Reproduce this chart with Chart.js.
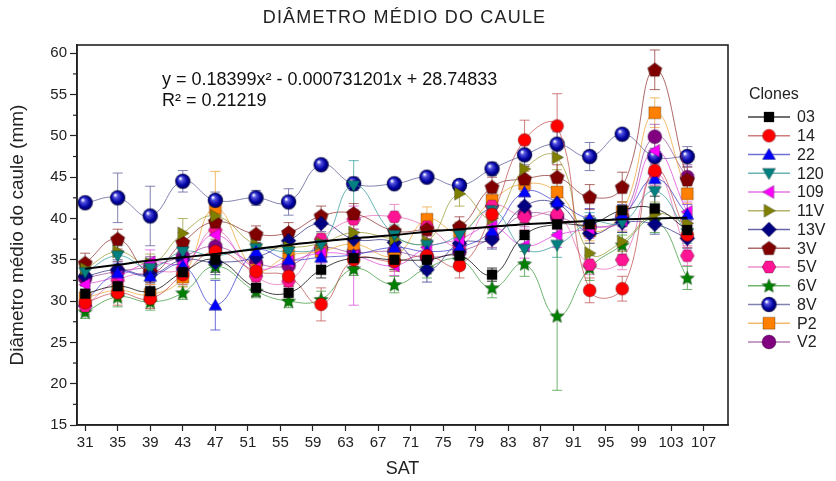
<!DOCTYPE html>
<html><head><meta charset="utf-8">
<script src="https://cdn.jsdelivr.net/npm/chart.js@4/dist/chart.umd.min.js"></script>
<style>html,body{margin:0;padding:0;background:#fff;}#wrap{width:836px;height:481px;position:relative;}</style>
</head><body><div id="wrap"><canvas id="c" width="836" height="481"></canvas></div>
<script>
// ---- data ----
const sat = [31,35,39,43,47,52,56,60,64,69,73,77,81,85,89,93,97,101,105];
const xTickValues = [31,35,39,43,47,51,55,59,63,67,71,75,79,83,87,91,95,99,103,107];
const yTickValues = [15,20,25,30,35,40,45,50,55,60];
const yMinorValues = [17.5,22.5,27.5,32.5,37.5,42.5,47.5,52.5,57.5];
const clones = ['03','14','22','120','109','11V','13V','3V','5V','6V','8V','P2','V2'];

const v03  = [30.9,31.8,31.2,33.5,35.0,31.6,31.0,33.8,35.2,35.0,35.0,35.5,33.2,38.0,39.3,39.3,41.0,41.2,38.6];
const v14  = [29.8,31.0,30.3,33.2,36.0,33.6,33.0,29.6,35.0,34.8,35.5,34.3,40.5,49.5,51.2,31.3,31.5,45.8,38.0];
const v22  = [30.0,33.4,33.0,34.3,29.5,36.0,35.0,35.3,35.6,36.5,36.0,36.5,38.5,43.2,42.0,40.0,40.5,44.8,40.5];
const v120 = [33.5,35.5,34.0,36.0,35.5,36.4,36.0,36.8,44.0,38.0,36.8,38.0,41.0,36.3,36.8,39.5,39.5,43.3,38.2];
const v109 = [32.0,33.0,34.7,34.6,38.0,34.0,34.8,35.8,35.5,34.3,36.5,37.5,39.0,36.7,38.0,38.8,39.8,48.2,40.8];
const v11V = [33.9,36.0,34.5,38.2,40.3,36.8,36.5,37.0,38.3,37.5,37.2,43.0,40.0,46.0,47.4,35.8,37.2,40.5,39.4];
const v13V = [33.0,33.8,33.2,35.0,34.7,35.3,37.3,39.4,37.5,37.1,33.8,37.0,37.5,41.5,41.8,38.2,39.5,39.3,37.6];
const v3V  = [34.6,37.5,33.5,37.1,39.6,38.1,38.3,40.3,40.6,38.5,38.7,39.0,43.8,44.8,45.0,42.6,43.8,58.0,44.7];
const v5V  = [29.4,32.5,33.5,34.0,38.6,33.0,32.4,37.5,39.9,40.2,39.0,36.7,41.5,40.2,40.5,34.4,35.0,45.5,35.5];
const v6V  = [28.7,30.5,29.9,31.0,34.2,31.2,30.0,30.2,33.9,32.0,34.0,35.0,31.6,34.5,28.2,34.0,36.8,39.8,32.8];
const v8V  = [41.9,42.5,40.3,44.5,42.2,42.5,42.0,46.5,44.2,44.2,45.0,44.0,46.0,47.7,49.0,47.5,50.2,47.5,47.5];
const vP2  = [30.4,31.3,30.8,32.9,41.2,33.8,35.5,36.0,36.9,35.5,39.9,38.4,42.2,44.2,43.2,38.5,40.8,52.8,43.0];
const vV2  = [32.8,33.6,34.2,35.4,36.6,34.6,34.3,36.4,35.9,36.0,35.3,36.0,37.7,40.5,40.2,39.0,40.2,49.9,45.0];

const e03  = [1.0,1.2,1.0,1.0,1.5,1.0,0.8,1.0,1.0,1.2,1.0,1.0,0.8,1.5,1.2,1.0,1.0,1.5,1.2];
const e14  = [1.0,1.5,1.2,1.2,1.5,1.2,1.2,2.0,1.2,1.2,1.5,1.5,1.2,2.4,3.9,1.5,1.5,2.0,1.5];
const e22  = [1.0,1.2,1.5,1.2,3.0,1.0,1.0,1.0,1.2,1.2,1.5,1.2,1.2,1.5,1.5,1.2,1.2,1.5,1.2];
const e120 = [1.0,1.2,1.2,1.2,1.5,1.0,1.2,1.2,3.0,1.2,1.2,1.5,1.5,1.5,1.5,1.2,1.2,1.5,1.2];
const e109 = [1.0,1.2,1.5,1.2,1.5,1.2,1.2,1.2,6.0,1.2,1.5,1.2,1.2,1.5,1.5,1.2,1.2,1.5,1.2];
const e11V = [1.0,1.2,1.2,1.8,1.5,1.2,1.2,1.2,1.2,1.5,1.2,1.5,1.2,1.5,1.5,1.2,1.2,1.5,1.2];
const e13V = [1.0,1.2,1.2,1.2,1.5,1.0,1.2,1.0,1.2,1.2,1.5,1.2,1.2,1.5,1.2,1.2,1.2,1.2,1.2];
const e3V  = [1.2,1.2,1.2,1.2,1.5,1.0,1.2,1.2,1.2,1.2,1.2,1.2,1.2,1.5,1.5,1.5,1.8,2.4,1.5];
const e5V  = [1.0,1.2,1.5,1.2,1.5,1.2,1.2,1.5,1.2,1.5,1.2,1.2,1.2,1.5,1.5,1.2,1.2,1.5,1.2];
const e6V  = [0.8,1.2,1.0,0.8,1.5,0.8,0.8,1.0,0.8,1.0,1.2,1.2,1.2,1.5,9.0,1.5,1.2,1.5,1.4];
const e8V  = [0.6,3.0,3.6,1.3,1.0,0.9,1.6,0.6,0.8,0.5,0.6,0.6,0.8,1.2,1.5,1.7,0.5,1.0,1.2];
const eP2  = [1.0,1.2,1.2,1.2,4.5,1.2,1.2,1.2,1.2,1.5,1.5,1.2,1.5,1.5,1.5,1.2,1.2,1.8,1.2];
const eV2  = [1.0,1.2,1.2,1.2,1.5,1.2,1.2,1.2,1.2,1.2,1.2,1.2,1.2,1.5,1.5,1.2,1.2,1.5,1.5];

// fitted trend line
const trend = [33.9,34.4,34.9,35.3,35.7,36.3,36.8,37.2,37.6,38.0,38.4,38.7,39.0,39.3,39.5,39.7,39.9,40.0,40.1];

const titleText = 'DIÂMETRO MÉDIO DO CAULE';
const yTitle = 'Diâmetro médio do caule (mm)';
const xTitle = 'SAT';
const eqLine1 = 'y = 0.18399x² - 0.000731201x + 28.74833';
const eqLine2 = 'R² = 0.21219';
const legendTitle = 'Clones';

// ---- styles ----
const FONT = '"Liberation Sans", Arial, sans-serif';
const styles = [
  {shape:'square',   fill:'#000000', line:'rgba(0,0,0,0.75)', r:5},
  {shape:'circle',   fill:'#ff0000', line:'rgba(190,70,70,0.7)', r:6.5},
  {shape:'triUp',    fill:'#0000ff', line:'rgba(50,50,200,0.7)', r:7.5},
  {shape:'triDown',  fill:'#008080', line:'rgba(40,150,150,0.7)', r:7.5},
  {shape:'triLeft',  fill:'#ff00ff', line:'rgba(220,60,220,0.7)', r:7.5},
  {shape:'triRight', fill:'#808000', line:'rgba(150,150,40,0.7)', r:7.5},
  {shape:'diamond',  fill:'#000080', line:'rgba(40,40,130,0.7)', r:7.5},
  {shape:'pentagon', fill:'#800000', line:'rgba(140,40,40,0.7)', r:7.5},
  {shape:'hexagon',  fill:'#ff1493', line:'rgba(230,100,180,0.7)', r:7},
  {shape:'star',     fill:'#008000', line:'rgba(50,150,50,0.7)', r:7.5},
  {shape:'sphere',   fill:'#0000a0', line:'rgba(100,100,160,0.8)', r:7.5},
  {shape:'square',   fill:'#ff8000', line:'rgba(240,170,70,0.8)', r:6},
  {shape:'circle',   fill:'#800080', line:'rgba(150,70,150,0.7)', r:7}
];
const values = [v03,v14,v22,v120,v109,v11V,v13V,v3V,v5V,v6V,v8V,vP2,vV2];
const errors = [e03,e14,e22,e120,e109,e11V,e13V,e3V,e5V,e6V,e8V,eP2,eV2];

function polyPath(ctx, cx, cy, r, n, start) {
  ctx.beginPath();
  for (let k=0;k<n;k++){const a=start+k*2*Math.PI/n;const px=cx+r*Math.cos(a),py=cy+r*Math.sin(a);k?ctx.lineTo(px,py):ctx.moveTo(px,py);}
  ctx.closePath();
}
function makeMarker(st) {
  const r = st.r, s = Math.ceil(2*r+4), c = document.createElement('canvas');
  c.width = s; c.height = s;
  const ctx = c.getContext('2d'), cx = s/2, cy = s/2, d = Math.PI/180;
  switch (st.shape) {
    case 'square': ctx.beginPath(); ctx.rect(cx-r,cy-r,2*r,2*r); break;
    case 'circle': ctx.beginPath(); ctx.arc(cx,cy,r,0,2*Math.PI); break;
    case 'triUp': polyPath(ctx,cx,cy+r*0.15,r,3,-90*d); break;
    case 'triDown': polyPath(ctx,cx,cy-r*0.15,r,3,90*d); break;
    case 'triLeft': polyPath(ctx,cx+r*0.15,cy,r,3,180*d); break;
    case 'triRight': polyPath(ctx,cx-r*0.15,cy,r,3,0); break;
    case 'diamond': polyPath(ctx,cx,cy,r,4,-90*d); break;
    case 'pentagon': polyPath(ctx,cx,cy+0.5,r,5,-90*d); break;
    case 'hexagon': polyPath(ctx,cx,cy,r,6,0); break;
    case 'star': {
      ctx.beginPath();
      for (let k=0;k<10;k++){const a=-90*d+k*36*d;const rr=k%2?r*0.45:r;const px=cx+rr*Math.cos(a),py=cy+0.5+rr*Math.sin(a);k?ctx.lineTo(px,py):ctx.moveTo(px,py);}
      ctx.closePath(); break;
    }
    case 'sphere': ctx.beginPath(); ctx.arc(cx,cy,r,0,2*Math.PI); break;
  }
  if (st.shape === 'sphere') {
    const g = ctx.createRadialGradient(cx-r*0.35,cy-r*0.4,0.5,cx,cy,r);
    g.addColorStop(0,'#ffffff'); g.addColorStop(0.25,'#5050e0'); g.addColorStop(0.7,'#0000a0'); g.addColorStop(1,'#00005a');
    ctx.fillStyle = g;
  } else ctx.fillStyle = st.fill;
  ctx.fill();
  ctx.lineWidth = 0.7; ctx.strokeStyle = 'rgba(0,0,0,0.4)'; ctx.stroke();
  return c;
}
const markers = styles.map(makeMarker);

const datasets = clones.map((name,i)=>({
  label: name,
  data: sat.map((x,j)=>({x:x, y:values[i][j]})),
  err: errors[i],
  borderColor: styles[i].line,
  backgroundColor: styles[i].fill,
  borderWidth: 1,
  pointStyle: markers[i],
  pointRadius: styles[i].r,
  tension: 0.45,
  fill: false,
  order: 1
}));
datasets.push({
  label: 'fit', isFit: true,
  data: sat.map((x,j)=>({x:x, y:trend[j]})),
  borderColor: '#000', borderWidth: 2, pointRadius: 0, tension: 0.4, fill:false, order: 0
});

const decorPlugin = {
  id: 'decor',
  beforeDatasetsDraw(chart) {
    const ctx = chart.ctx, xs = chart.scales.x, ys = chart.scales.y;
    ctx.save();
    chart.data.datasets.forEach((ds)=>{
      if (!ds.err) return;
      ctx.strokeStyle = ds.borderColor; ctx.lineWidth = 1;
      ds.data.forEach((p,j)=>{
        const e = ds.err[j];
        const x = xs.getPixelForValue(p.x), y1 = ys.getPixelForValue(p.y+e), y2 = ys.getPixelForValue(p.y-e);
        ctx.beginPath();
        ctx.moveTo(x,y1); ctx.lineTo(x,y2);
        ctx.moveTo(x-5,y1); ctx.lineTo(x+5,y1);
        ctx.moveTo(x-5,y2); ctx.lineTo(x+5,y2);
        ctx.stroke();
      });
    });
    ctx.restore();
  },
  afterDraw(chart) {
    const ctx = chart.ctx, a = chart.chartArea, ys = chart.scales.y;
    ctx.save();
    // frame
    ctx.strokeStyle = '#222'; ctx.lineWidth = 1.6;
    ctx.strokeRect(a.left, a.top, a.right-a.left, a.bottom-a.top);
    // minor y ticks
    ctx.lineWidth = 1.2; ctx.strokeStyle = '#222';
    yMinorValues.forEach(v=>{const y=ys.getPixelForValue(v);ctx.beginPath();ctx.moveTo(a.left-4,y);ctx.lineTo(a.left,y);ctx.stroke();});
    // title
    ctx.fillStyle = '#222'; ctx.textAlign = 'center'; ctx.textBaseline = 'middle';
    ctx.font = '18px ' + FONT;
    if ('letterSpacing' in ctx) ctx.letterSpacing = '1.2px';
    ctx.fillText(titleText, (a.left+a.right)/2 + 2, 18);
    if ('letterSpacing' in ctx) ctx.letterSpacing = '0px';
    // equation
    ctx.textAlign = 'left'; ctx.font = '18px ' + FONT; ctx.fillStyle = '#111';
    ctx.fillText(eqLine1, a.left+85, 80);
    ctx.fillText(eqLine2, a.left+85, 101);
    // legend
    ctx.font = '16px ' + FONT; ctx.fillStyle = '#222';
    ctx.fillText(legendTitle, 749, 95);
    ctx.font = '16px ' + FONT;
    clones.forEach((name,i)=>{
      const y = 117 + i*18.75;
      ctx.strokeStyle = styles[i].line; ctx.lineWidth = 1.3;
      ctx.beginPath(); ctx.moveTo(748,y); ctx.lineTo(790,y); ctx.stroke();
      const m = markers[i];
      ctx.drawImage(m, 769 - m.width/2, y - m.height/2);
      ctx.fillStyle = '#222';
      ctx.fillText(name, 797, y+1);
    });
    ctx.restore();
  }
};

new Chart(document.getElementById('c'), {
  type: 'line',
  data: { datasets },
  plugins: [decorPlugin],
  options: {
    responsive: false, animation: false, devicePixelRatio: 1,
    layout: { padding: { top: 45, right: 108, left: 0, bottom: 0 } },
    plugins: { legend: {display:false}, tooltip: {enabled:false}, title: {display:false} },
    scales: {
      x: {
        type: 'linear', min: 30, max: 110,
        afterBuildTicks: s => { s.ticks = xTickValues.map(v=>({value:v})); },
        afterFit: s => { s.height = 56; },
        ticks: { autoSkip:false, maxRotation:0, padding: 3, color:'#222', font:{family:FONT, size:15} },
        grid: { drawOnChartArea:false, drawTicks:true, tickLength:6, tickColor:'#222', tickWidth:1.2 },
        border: { display:true, color:'#222', width:1.6 },
        title: { display:true, text:xTitle, color:'#222', font:{family:FONT, size:18}, padding:{top:0,bottom:1} }
      },
      y: {
        type: 'linear', min: 15, max: 61,
        afterBuildTicks: s => { s.ticks = yTickValues.map(v=>({value:v})); },
        afterFit: s => { s.width = 77; },
        ticks: { padding: 3, color:'#222', font:{family:FONT, size:15} },
        grid: { drawOnChartArea:false, drawTicks:true, tickLength:7, tickColor:'#222', tickWidth:1.2 },
        border: { display:true, color:'#222', width:1.6 },
        title: { display:true, text:yTitle, color:'#222', font:{family:FONT, size:19}, padding:{top:6,bottom:0} }
      }
    }
  }
});
</script></body></html>
